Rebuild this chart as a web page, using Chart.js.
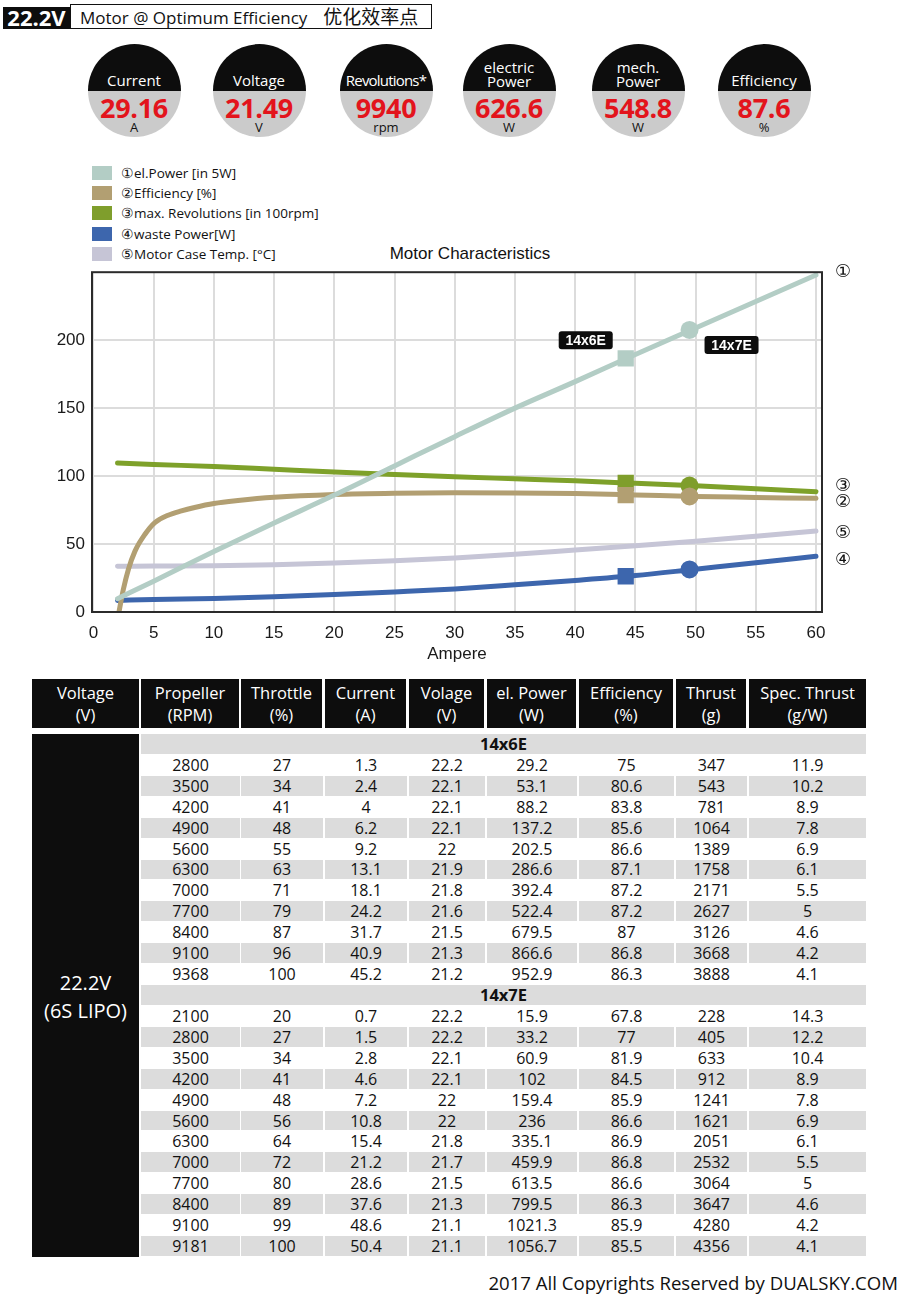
<!DOCTYPE html>
<html><head><meta charset="utf-8">
<script src="https://cdn.jsdelivr.net/npm/chart.js@4.4.0/dist/chart.umd.min.js"></script>
<style>
html,body{margin:0;padding:0;background:#fff;}
body{width:908px;height:1297px;position:relative;overflow:hidden;font-family:'Open Sans',sans-serif;color:#111;}
.abs{position:absolute;}
.badge{position:absolute;width:93px;height:93px;border-radius:50%;overflow:hidden;background:linear-gradient(#0d0d0d 0,#0d0d0d 51%,#cbcbcb 51%,#cbcbcb 100%);}
.badge .lab{position:absolute;left:0;width:100%;text-align:center;color:#fff;font-size:15px;line-height:14px;white-space:nowrap;}
.badge .val{position:absolute;left:0;width:100%;text-align:center;color:#e3141c;font-weight:bold;font-size:27px;line-height:27px;top:50px;letter-spacing:-0.3px;}
.badge .unit{position:absolute;left:0;width:100%;text-align:center;color:#111;font-size:13px;line-height:12px;top:77px;}
.cell{position:absolute;display:flex;align-items:center;justify-content:center;text-align:center;box-sizing:border-box;}
</style></head>
<body>
<div class="abs" style="left:70px;top:4px;width:362px;height:25px;border:1.5px solid #111;box-sizing:border-box;"></div>
<div class="abs" style="left:3px;top:7px;width:67px;height:22px;background:#0d0d0d;color:#fff;font-weight:bold;font-size:22px;line-height:20px;text-align:center;">22.2V</div>
<div class="abs" style="left:80px;top:4px;height:24px;line-height:24px;font-size:17px;white-space:nowrap;">Motor @ Optimum Efficiency<span style="display:inline-block;width:16px"></span><span style="font-family:'Noto Sans CJK SC';font-size:19px;">优化效率点</span></div>

<div id="badges"></div>
<div id="legend"></div>
<div class="abs" style="left:370px;top:243px;width:200px;text-align:center;font-family:'Liberation Sans',Arial,sans-serif;font-size:17px;line-height:22px;color:#111;">Motor Characteristics</div>
<div class="abs" style="left:0;top:255px;width:908px;height:415px;"><canvas id="c" width="908" height="415"></canvas></div>
<div id="table"></div>
<div class="abs" style="right:10px;top:1271px;font-size:18.6px;line-height:24px;color:#111;white-space:nowrap;">2017 All Copyrights Reserved by DUALSKY.COM</div>

<script>
// ---------- data ----------
const badgeLabels = [["Current"],["Voltage"],["Revolutions*"],["electric","Power"],["mech.","Power"],["Efficiency"]];
const badgeValues = ["29.16","21.49","9940","626.6","548.8","87.6"];
const badgeUnits  = ["A","V","rpm","W","W","%"];

const seriesNames  = ["①el.Power [in 5W]","②Efficiency [%]","③max. Revolutions [in 100rpm]","④waste Power[W]","⑤Motor Case Temp. [°C]"];
const seriesColors = ["#b3cdc5","#b29f72","#7f9e2c","#3d66ad","#c6c5d6"];
const endLabels    = ["①","②","③","④","⑤"];

const xTicks = [0,5,10,15,20,25,30,35,40,45,50,55,60];
const yTicks = [0,50,100,150,200];

const ampere     = [2, 5, 10, 15, 20, 25, 30, 35, 40, 45, 50, 55, 60];
const elPower    = [9.8, 22.7, 44.5, 65.5, 86, 107.5, 129, 150, 169.5, 189.5, 209, 228.5, 248];
const maxRev     = [109.7, 108.6, 107, 105, 103, 101.2, 99.5, 98, 96.5, 94.7, 92.8, 90.7, 88.5];
const wastePower = [8.5, 9.2, 9.9, 11.2, 12.8, 14.8, 17, 20, 23.2, 26.8, 31.5, 36.2, 41];
const caseTemp   = [33.7, 33.8, 34, 34.8, 36, 37.7, 39.8, 42.4, 45.6, 48.8, 52, 55.7, 59.6];
const ampereEff  = [2.12, 2.48, 2.9, 3.45, 4.28, 5.1, 6.2, 7.3, 8.4, 10, 12, 15, 20, 25, 30, 35, 40, 45, 50, 55, 60];
const efficiency = [0, 16.5, 31.3, 44.8, 57.2, 65.8, 71.2, 74.4, 76.9, 79.8, 82, 84.4, 86.5, 87.4, 87.7, 87.6, 87.1, 86.1, 85, 84.3, 83.6];

// operating points [elPower, maxRev, efficiency, wastePower]
const op6Name = "14x6E", op6Current = 44.2, op6Values = [186.6, 95, 86, 26.3];
const op7Name = "14x7E", op7Current = 49.5, op7Values = [207.5, 93, 85, 31.3];

const tableHeaders = [["Voltage","(V)"],["Propeller","(RPM)"],["Throttle","(%)"],["Current","(A)"],["Volage","(V)"],["el. Power","(W)"],["Efficiency","(%)"],["Thrust","(g)"],["Spec. Thrust","(g/W)"]];
const voltageLabel = ["22.2V","(6S LIPO)"];
const prop6Rows = [
 [2800,27,1.3,22.2,29.2,75,347,11.9],
 [3500,34,2.4,22.1,53.1,80.6,543,10.2],
 [4200,41,4,22.1,88.2,83.8,781,8.9],
 [4900,48,6.2,22.1,137.2,85.6,1064,7.8],
 [5600,55,9.2,22,202.5,86.6,1389,6.9],
 [6300,63,13.1,21.9,286.6,87.1,1758,6.1],
 [7000,71,18.1,21.8,392.4,87.2,2171,5.5],
 [7700,79,24.2,21.6,522.4,87.2,2627,5],
 [8400,87,31.7,21.5,679.5,87,3126,4.6],
 [9100,96,40.9,21.3,866.6,86.8,3668,4.2],
 [9368,100,45.2,21.2,952.9,86.3,3888,4.1]];
const prop7Rows = [
 [2100,20,0.7,22.2,15.9,67.8,228,14.3],
 [2800,27,1.5,22.2,33.2,77,405,12.2],
 [3500,34,2.8,22.1,60.9,81.9,633,10.4],
 [4200,41,4.6,22.1,102,84.5,912,8.9],
 [4900,48,7.2,22,159.4,85.9,1241,7.8],
 [5600,56,10.8,22,236,86.6,1621,6.9],
 [6300,64,15.4,21.8,335.1,86.9,2051,6.1],
 [7000,72,21.2,21.7,459.9,86.8,2532,5.5],
 [7700,80,28.6,21.5,613.5,86.6,3064,5],
 [8400,89,37.6,21.3,799.5,86.3,3647,4.6],
 [9100,99,48.6,21.1,1021.3,85.9,4280,4.2],
 [9181,100,50.4,21.1,1056.7,85.5,4356,4.1]];

// ---------- badges ----------
const badgeCx = [134, 259, 386, 509, 638, 764];
const badgeSpacing = [0, 0, -0.8, 0, 0, 0];
let bh = '';
badgeLabels.forEach((l, i) => {
  const labTop = l.length === 1 ? 29 : 16;
  bh += `<div class="badge" style="left:${badgeCx[i]-46.5}px;top:44px;">` +
        `<div class="lab" style="top:${labTop}px;letter-spacing:${badgeSpacing[i]}px">${l.join('<br>')}</div>` +
        `<div class="val">${badgeValues[i]}</div>` +
        `<div class="unit">${badgeUnits[i]}</div></div>`;
});
document.getElementById('badges').innerHTML = bh;

// ---------- legend ----------
let lh = '';
seriesNames.forEach((n, i) => {
  const t = 166 + i * 20.2;
  lh += `<div class="abs" style="left:92px;top:${t}px;width:20px;height:14px;background:${seriesColors[i]}"></div>` +
        `<div class="abs" style="left:121px;top:${t-3}px;font-size:13.5px;line-height:20px;white-space:nowrap;color:#111">${n}</div>`;
});
document.getElementById('legend').innerHTML = lh;

// ---------- table ----------
const colL = [32,141,241,325,409,487,579,676,749];
const colR = [139,239,322,406,484,576,673,746,866];
let th = '';
tableHeaders.forEach((h, i) => {
  th += `<div class="cell" style="left:${colL[i]}px;top:679px;width:${colR[i]-colL[i]}px;height:49px;background:#0d0d0d;color:#fff;font-size:16.5px;line-height:22px;flex-direction:column;">${h[0]}<br>${h[1]}</div>`;
});
const rowTop = 734, rowH = 20.92;
th += `<div class="cell" style="left:32px;top:${rowTop}px;width:107px;height:${25*rowH}px;background:#0d0d0d;color:#fff;font-size:20px;line-height:28px;"><div style="margin-top:2px">${voltageLabel[0]}<br>${voltageLabel[1]}</div></div>`;
let r = 0;
function groupRow(name) {
  const t = rowTop + r * rowH;
  th += `<div class="cell" style="left:141px;top:${t}px;width:725px;height:${rowH-1}px;background:#dcdcdc;font-weight:bold;font-size:16.5px;">${name}</div>`;
  r++;
}
function dataRows(rows) {
  rows.forEach((row, k) => {
    const t = rowTop + r * rowH;
    const gray = k % 2 === 1;
    row.forEach((v, j) => {
      const c = j + 1;
      th += `<div class="cell" style="left:${colL[c]}px;top:${t}px;width:${colR[c]-colL[c]+(c<8?1:0)}px;height:${rowH-1}px;${gray?'background:#dcdcdc;':''}font-size:16px;">${v}</div>`;
    });
    r++;
  });
}
groupRow(op6Name); dataRows(prop6Rows);
groupRow(op7Name); dataRows(prop7Rows);
document.getElementById('table').innerHTML = th;

// ---------- chart ----------
const pts = (xs, ys) => xs.map((x, i) => ({x, y: ys[i]}));
const lineSeries = [
  pts(ampere, elPower), pts(ampereEff, efficiency), pts(ampere, maxRev), pts(ampere, wastePower), pts(ampere, caseTemp)
];
const markerColors = [seriesColors[0], seriesColors[2], seriesColors[1], seriesColors[3]];
const lineDatasets = lineSeries.map((d, i) => ({
  label: seriesNames[i], data: d, borderColor: seriesColors[i], backgroundColor: seriesColors[i],
  borderWidth: 5, pointRadius: 0, cubicInterpolationMode: 'monotone', borderCapStyle: 'round', fill: false, order: i + 1
}));
lineDatasets[2].borderColor = '#7ea12a';
const op6Data = op6Values.map(v => ({x: op6Current, y: v}));
const op7Data = op7Values.map(v => ({x: op7Current, y: v}));
const markerSets = [
  {label: op6Name, data: op6Data, showLine: false, pointStyle: 'rect', pointRadius: 11.5, pointBackgroundColor: markerColors, pointBorderWidth: 0, order: -1},
  {label: op7Name, data: op7Data, showLine: false, pointStyle: 'circle', pointRadius: 9, pointBackgroundColor: markerColors, pointBorderWidth: 0, order: -2}
];

const endOffsets = [-3, 4, -5, 4, 2];
const endValues = [elPower[elPower.length-1], efficiency[efficiency.length-1], maxRev[maxRev.length-1], wastePower[wastePower.length-1], caseTemp[caseTemp.length-1]];
const decorPlugin = {
  id: 'decor',
  afterDraw(chart) {
    const {ctx, chartArea: a, scales: {x, y}} = chart;
    ctx.save();
    ctx.strokeStyle = '#2b2b2b'; ctx.lineWidth = 2;
    ctx.strokeRect(a.left, a.top, a.right - a.left, a.bottom - a.top);
    ctx.fillStyle = '#111'; ctx.font = '18px "DejaVu Sans"'; ctx.textAlign = 'center'; ctx.textBaseline = 'middle';
    endLabels.forEach((t, i) => ctx.fillText(t, a.right + 21, y.getPixelForValue(endValues[i]) + endOffsets[i]));
    const tag = (txt, px, py) => {
      const w = 54, h = 18;
      ctx.fillStyle = '#0d0d0d';
      ctx.beginPath(); ctx.roundRect(px - w/2, py - h/2, w, h, 3); ctx.fill();
      ctx.fillStyle = '#fff'; ctx.font = 'bold 14px "Liberation Sans", Arial';
      ctx.fillText(txt, px, py + 1);
    };
    tag(op6Name, x.getPixelForValue(op6Current) - 40, y.getPixelForValue(op6Values[0]) - 18);
    tag(op7Name, x.getPixelForValue(op7Current) + 42, y.getPixelForValue(op7Values[0]) + 15);
    ctx.restore();
  }
};

const tickFont = {family: '"Liberation Sans", Arial, sans-serif', size: 17};
new Chart(document.getElementById('c'), {
  type: 'line',
  data: {datasets: [...lineDatasets, ...markerSets]},
  options: {
    responsive: false, animation: false,
    layout: {padding: {left: 0, right: 86, top: 0, bottom: 0}},
    plugins: {legend: {display: false}, tooltip: {enabled: false}, title: {display: false}},
    scales: {
      x: {
        type: 'linear', min: -0.12, max: 60.5,
        afterBuildTicks: s => { s.ticks = xTicks.map(v => ({value: v})); },
        afterFit: s => { s.height = 58; },
        grid: {color: '#dcdcdc', lineWidth: 2, drawTicks: false},
        border: {display: false},
        ticks: {font: tickFont, color: '#1a1a1a', padding: 11, maxRotation: 0, autoSkip: false},
        title: {display: true, text: 'Ampere', font: tickFont, color: '#1a1a1a', padding: {top: 0, bottom: 5}}
      },
      y: {
        type: 'linear', min: 0, max: 250,
        afterBuildTicks: s => { s.ticks = yTicks.map(v => ({value: v})); },
        afterFit: s => { s.width = 92; },
        grid: {color: '#dcdcdc', lineWidth: 2, drawTicks: false},
        border: {display: false},
        ticks: {font: tickFont, color: '#1a1a1a', padding: 7}
      }
    }
  },
  plugins: [decorPlugin]
});
</script>
</body></html>
